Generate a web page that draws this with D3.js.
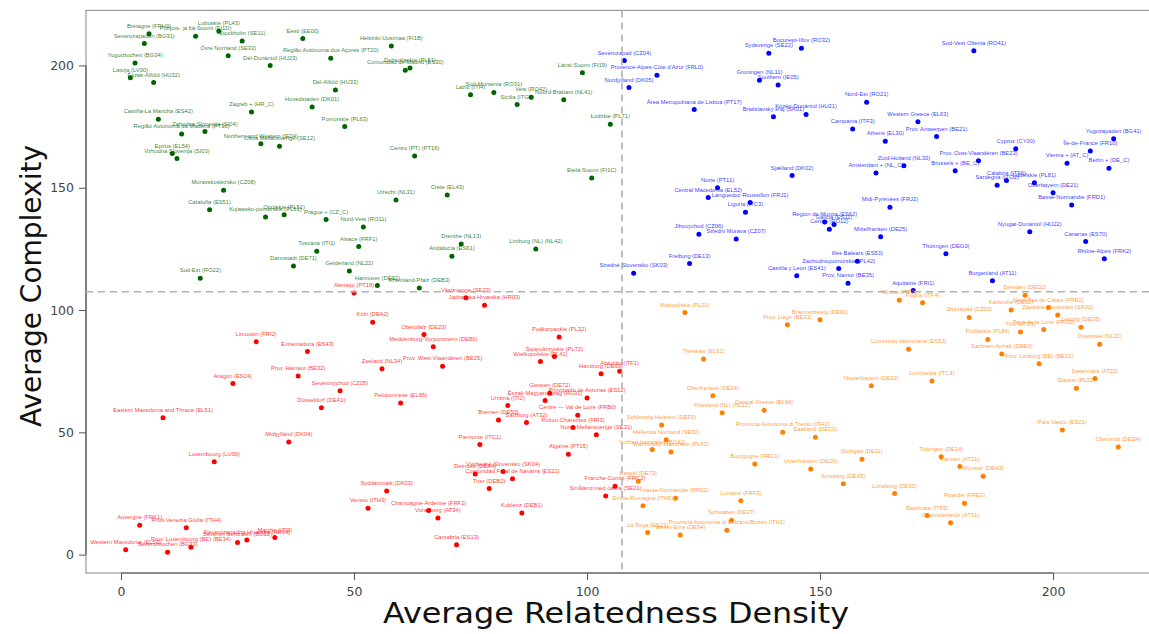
<!DOCTYPE html>
<html>
<head>
<meta charset="utf-8">
<script src="https://cdn.jsdelivr.net/npm/d3@7"></script>
<style>
  body { margin: 0; background: #fff; }
  .lbl { font-family: "Liberation Sans", Arial, sans-serif; font-size: 5.8px; }
  .tick text { font-family: "DejaVu Sans", Verdana, sans-serif; font-size: 12.5px; fill: #444; }
  .title { font-family: "DejaVu Sans", Verdana, sans-serif; font-size: 29px; fill: #111; }
</style>
</head>
<body>
<svg id="main" width="1149" height="634"></svg>
<script>
// [region, average relatedness density (rank), average complexity (rank)]
const greenRegions = [
  ["Bretagne (FRH0)", 6, 213], ["Severozapaden (BG31)", 5, 209], ["Pohjois- ja Itä-Suomi (FI1D)", 16, 212],
  ["Lubuskie (PL43)", 21, 214], ["Stockholm (SE11)", 26, 210], ["Eesti (EE00)", 39, 211],
  ["Övre Norrland (SE33)", 23, 204], ["Região Autónoma dos Açores (PT20)", 45, 203], ["Dél-Dunántúl (HU23)", 32, 200],
  ["Yugoiztochen (BG34)", 3, 201], ["Latvija (LV00)", 2, 195], ["Észak-Alföld (HU32)", 7, 193],
  ["Dél-Alföld (HU33)", 46, 190], ["Hovedstaden (DK01)", 41, 183], ["Zagreb + (HR_C)", 28, 181],
  ["Pomorskie (PL63)", 48, 175], ["Castilla-La Mancha (ES42)", 8, 178], ["Zahodna Slovenija (SI04)", 18, 173],
  ["Região Autónoma da Madeira (PT30)", 13, 172], ["Northern and Western (IE04)", 30, 168],
  ["Östra Mellansverige (SE12)", 34, 167], ["Epirus (EL54)", 11, 164], ["Vzhodna Slovenija (SI03)", 12, 162],
  ["Moravskoslezsko (CZ08)", 22, 149], ["Helsinki-Uusimaa (FI1B)", 58, 208], ["Comunidad de Madrid (ES30)", 61, 198],
  ["Dolnośląskie (PL51)", 62, 199], ["Lazio (ITI4)", 75, 188], ["Sud-Muntenia (RO31)", 80, 189],
  ["Sicilia (ITG1)", 85, 184], ["Vest (RO42)", 88, 187], ["Noord-Brabant (NL41)", 95, 186],
  ["Länsi-Suomi (FI19)", 99, 197], ["Łódzkie (PL71)", 105, 176], ["Centro (PT) (PT16)", 63, 163],
  ["Etelä-Suomi (FI1C)", 101, 154], ["Crete (EL43)", 70, 147], ["Utrecht (NL31)", 59, 145],
  ["Cataluña (ES51)", 19, 141], ["Kujawsko-pomorskie (PL61)", 31, 138], ["Opolskie (PL52)", 35, 139],
  ["Prague + (CZ_C)", 44, 137], ["Nord-Vest (RO11)", 52, 134], ["Toscana (ITI1)", 42, 124],
  ["Alsace (FRF1)", 51, 126], ["Darmstadt (DE71)", 37, 118], ["Gelderland (NL22)", 49, 116],
  ["Sud-Est (RO22)", 17, 113], ["Hannover (DE92)", 55, 110], ["Rheinland-Pfalz (DEB3)", 64, 109],
  ["Drenthe (NL13)", 73, 127], ["Andalucía (ES61)", 71, 122], ["Limburg (NL) (NL42)", 89, 125]
];

const blueRegions = [
  ["Severozapad (CZ04)", 108, 202], ["Provence-Alpes-Côte d'Azur (FRL0)", 115, 196], ["Nordjylland (DK05)", 109, 191],
  ["Área Metropolitana de Lisboa (PT17)", 123, 182], ["Sydsverige (SE22)", 139, 205], ["Bucureşti-Ilfov (RO32)", 146, 207],
  ["Groningen (NL11)", 137, 194], ["Southern (IE05)", 141, 192], ["Bratislavský kraj (SK01)", 140, 179],
  ["Közép-Dunántúl (HU21)", 147, 180], ["Nord-Est (RO21)", 160, 185], ["Campania (ITF3)", 157, 174],
  ["Athens (EL30)", 164, 169], ["Sjælland (DK02)", 144, 155], ["Amsterdam + (NL_C)", 162, 156],
  ["Zuid-Holland (NL33)", 168, 159], ["Norte (PT11)", 128, 150], ["Central Macedonia (EL52)", 126, 146],
  ["Languedoc-Roussillon (FRJ1)", 135, 144], ["Sud-Vest Oltenia (RO41)", 183, 206], ["Western Greece (EL63)", 171, 177],
  ["Prov. Antwerpen (BE21)", 175, 171], ["Cyprus (CY00)", 192, 166], ["Yugozapaden (BG41)", 213, 170],
  ["Île-de-France (FR10)", 208, 165], ["Vienna + (AT_C)", 203, 160], ["Berlin + (DE_C)", 212, 158],
  ["Prov. Oost-Vlaanderen (BE23)", 184, 161], ["Brussels + (BE_C)", 179, 157], ["Calabria (ITF6)", 190, 153],
  ["Sardegna (ITG2)", 188, 151], ["Lubelskie (PL81)", 196, 152], ["Oberbayern (DE21)", 200, 148],
  ["Basse-Normandie (FRD1)", 204, 143], ["Midi-Pyrénées (FRJ2)", 165, 142], ["Nyugat-Dunántúl (HU22)", 195, 132],
  ["Canarias (ES70)", 207, 128], ["Rhône-Alpes (FRK2)", 211, 121], ["Thüringen (DEG0)", 177, 123],
  ["Burgenland (AT11)", 187, 112], ["Aquitaine (FRI1)", 170, 108], ["Mittelfranken (DE25)", 163, 130],
  ["Región de Murcia (ES62)", 151, 136], ["Galicia (ES11)", 153, 135], ["Centru (RO12)", 152, 133],
  ["Illes Balears (ES53)", 158, 120], ["Zachodniopomorskie (PL42)", 154, 117], ["Castilla y León (ES41)", 145, 114],
  ["Prov. Namur (BE35)", 156, 111], ["Jihovýchod (CZ06)", 124, 131], ["Střední Morava (CZ07)", 132, 129],
  ["Freiburg (DE13)", 122, 119], ["Liguria (ITC3)", 134, 140], ["Stredné Slovensko (SK03)", 110, 115]
];

const redRegions = [
  ["Alentejo (PT18)", 50, 107], ["Västsverige (SE23)", 74, 105], ["Jadranska Hrvatska (HR03)", 78, 102],
  ["Köln (DEA2)", 54, 95], ["Oberpfalz (DE23)", 65, 90], ["Mecklenburg-Vorpommern (DE80)", 67, 85],
  ["Zeeland (NL34)", 56, 76], ["Prov. West-Vlaanderen (BE25)", 69, 77], ["Podkarpackie (PL32)", 94, 89],
  ["Świętokrzyskie (PL72)", 93, 81], ["Wielkopolskie (PL41)", 90, 79], ["Hamburg (DE60)", 103, 74],
  ["Abruzzo (ITF1)", 107, 75], ["Giessen (DE72)", 92, 66], ["Principado de Asturias (ES12)", 100, 64],
  ["Észak-Magyarország (HU31)", 91, 63], ["Peloponnese (EL65)", 60, 62], ["Umbria (ITI2)", 83, 61],
  ["Bremen (DE50)", 81, 55], ["Salzburg (AT32)", 87, 54], ["Centre — Val de Loire (FRB0)", 98, 57],
  ["Poitou-Charentes (FRI3)", 97, 52], ["Norra Mellansverige (SE31)", 102, 49], ["Piemonte (ITC1)", 77, 45],
  ["Algarve (PT15)", 96, 41], ["Detmold (DEA4)", 76, 33], ["Východné Slovensko (SK04)", 82, 34],
  ["Comunidad Foral de Navarra (ES22)", 84, 31], ["Trier (DEB2)", 79, 27], ["Franche-Comté (FRC2)", 106, 28],
  ["Småland med öarna (SE21)", 104, 24], ["Syddanmark (DK03)", 57, 26], ["Veneto (ITH3)", 53, 19],
  ["Champagne-Ardenne (FRF2)", 66, 18], ["Vorarlberg (AT34)", 68, 15], ["Koblenz (DEB1)", 86, 17],
  ["Cantabria (ES13)", 72, 4], ["Düsseldorf (DEA1)", 43, 60], ["Severovýchod (CZ05)", 47, 67],
  ["Limousin (FRI2)", 29, 87], ["Extremadura (ES43)", 40, 83], ["Prov. Hainaut (BE32)", 38, 73],
  ["Aragón (ES24)", 24, 70], ["Eastern Macedonia and Thrace (EL51)", 9, 56], ["Midtjylland (DK04)", 36, 46],
  ["Luxembourg (LU00)", 20, 38], ["Auvergne (FRK1)", 4, 12], ["Friuli-Venezia Giulia (ITH4)", 14, 11],
  ["Western Macedonia (EL53)", 1, 2], ["Severoiztochen (BG33)", 10, 1], ["Prov. Luxembourg (BE) (BE34)", 15, 3],
  ["Severen tsentralen (BG32)", 25, 5], ["Sjeverozapadna Hrvatska (HR04)", 27, 6], ["Marche (ITI3)", 33, 7]
];

const orangeRegions = [
  ["Małopolskie (PL21)", 121, 99], ["Prov. Liège (BE33)", 143, 94], ["Braunschweig (DE91)", 150, 96],
  ["Thessaly (EL61)", 125, 80], ["Niederbayern (DE22)", 161, 69], ["Oberfranken (DE24)", 127, 65],
  ["Comunitat Valenciana (ES52)", 169, 84], ["Molise (ITF2)", 167, 104], ["Puglia (ITF4)", 172, 103],
  ["Dresden (DED2)", 194, 106], ["Nord-Pas de Calais (FRE1)", 199, 101], ["Karlsruhe (DE12)", 191, 100],
  ["Západné Slovensko (SK02)", 201, 98], ["Jihozápad (CZ03)", 182, 97], ["Leipzig (DED5)", 206, 93],
  ["Pays de la Loire (FRG0)", 198, 92], ["Tirol (AT33)", 193, 91], ["Podlaskie (PL84)", 186, 88],
  ["Overijssel (NL21)", 210, 86], ["Sachsen-Anhalt (DEE0)", 189, 82], ["Prov. Limburg (BE) (BE22)", 197, 78],
  ["Lombardia (ITC4)", 174, 71], ["Steiermark (AT22)", 209, 72], ["Śląskie (PL22)", 205, 68],
  ["Friesland (NL) (NL12)", 129, 58], ["Central Greece (EL64)", 138, 59], ["Schleswig-Holstein (DEF0)", 116, 53],
  ["Mellersta Norrland (SE32)", 117, 47], ["Yuzhen tsentralen (BG42)", 114, 43], ["Warmińsko-Mazurskie (PL62)", 118, 42],
  ["Provincia Autonoma di Trento (ITH2)", 142, 50], ["Saarland (DEC0)", 149, 48], ["Bourgogne (FRC1)", 136, 37],
  ["Unterfranken (DE26)", 148, 35], ["Stuttgart (DE11)", 159, 39], ["Arnsberg (DEA5)", 155, 29],
  ["Lüneburg (DE93)", 166, 25], ["Kassel (DE73)", 111, 30], ["Haute-Normandie (FRD2)", 119, 23],
  ["Emilia-Romagna (ITH5)", 112, 20], ["Lorraine (FRF3)", 133, 22], ["Schwaben (DE27)", 131, 14],
  ["Provincia Autonoma di Bolzano/Bozen (ITH1)", 130, 10], ["La Rioja (ES23)", 113, 9], ["Weser-Ems (DE94)", 120, 8],
  ["País Vasco (ES21)", 202, 51], ["Chemnitz (DED4)", 214, 44], ["Tübingen (DE14)", 176, 40],
  ["Kärnten (AT21)", 180, 36], ["Münster (DEA3)", 185, 32], ["Picardie (FRE2)", 181, 21],
  ["Basilicata (ITF5)", 173, 16], ["Oberösterreich (AT31)", 178, 13]
];

const groups = [
  { rows: greenRegions, color: "#006400" },
  { rows: blueRegions, color: "#0000ff" },
  { rows: redRegions, color: "#ff0000" },
  { rows: orangeRegions, color: "#ff7f00" }
];
const tickValues = [0, 50, 100, 150, 200];
const meanDensity = 107.5, meanComplexity = 107.5;

const svg = d3.select("#main");
const x = d3.scaleLinear().domain([-7.52, 222.52]).range([86, 1158]);
const y = d3.scaleLinear().domain([-7.52, 222.52]).range([573, 10.4]);

// box
svg.append("rect")
  .attr("x", 86).attr("y", 10.4).attr("width", 1158 - 86).attr("height", 573 - 10.4)
  .attr("fill", "none").attr("stroke", "#999").attr("stroke-width", 1.2);

let gx = svg.append("g").attr("transform", "translate(0,573)")
  .call(d3.axisBottom(x).tickValues(tickValues).tickSize(7).tickPadding(7).tickSizeOuter(0));
gx.select(".domain").attr("d", `M${x(0)},0H${x(200)}`).attr("stroke", "#555").attr("stroke-width", 1.2);
gx.selectAll(".tick line").attr("stroke", "#555");

let gy = svg.append("g").attr("transform", "translate(86,0)")
  .call(d3.axisLeft(y).tickValues(tickValues).tickSize(7).tickPadding(5).tickSizeOuter(0));
gy.select(".domain").attr("d", `M0,${y(0)}V${y(200)}`).attr("stroke", "#555").attr("stroke-width", 1.2);
gy.selectAll(".tick line").attr("stroke", "#555");

// points and labels
groups.forEach(g => {
  let layer = svg.append("g");
  layer.selectAll("circle").data(g.rows).enter().append("circle")
    .attr("cx", d => x(d[1])).attr("cy", d => y(d[2])).attr("r", 2.5)
    .attr("fill", g.color);
  layer.selectAll("text").data(g.rows).enter().append("text")
    .attr("class", "lbl")
    .attr("x", d => x(d[1])).attr("y", d => y(d[2]) - 5.9)
    .attr("text-anchor", "middle").attr("fill", g.color).attr("fill-opacity", 0.8)
    .text(d => d[0]);
});

// mean lines
svg.append("line")
  .attr("x1", x(meanDensity)).attr("x2", x(meanDensity)).attr("y1", 10.4).attr("y2", 573)
  .attr("stroke", "#b0b0b0").attr("stroke-width", 1.6).attr("stroke-dasharray", "7,5");
svg.append("line")
  .attr("x1", 86).attr("x2", 1158).attr("y1", y(meanComplexity)).attr("y2", y(meanComplexity))
  .attr("stroke", "#b0b0b0").attr("stroke-width", 1.6).attr("stroke-dasharray", "7,5");

// axis titles
svg.append("text").attr("class", "title")
  .attr("x", 616).attr("y", 623).attr("text-anchor", "middle")
  .attr("textLength", 466).attr("lengthAdjust", "spacingAndGlyphs")
  .text("Average Relatedness Density");
svg.append("text").attr("class", "title")
  .attr("transform", "translate(41,286) rotate(-90)").attr("text-anchor", "middle")
  .attr("textLength", 282).attr("lengthAdjust", "spacingAndGlyphs")
  .text("Average Complexity");
</script>
</body>
</html>
